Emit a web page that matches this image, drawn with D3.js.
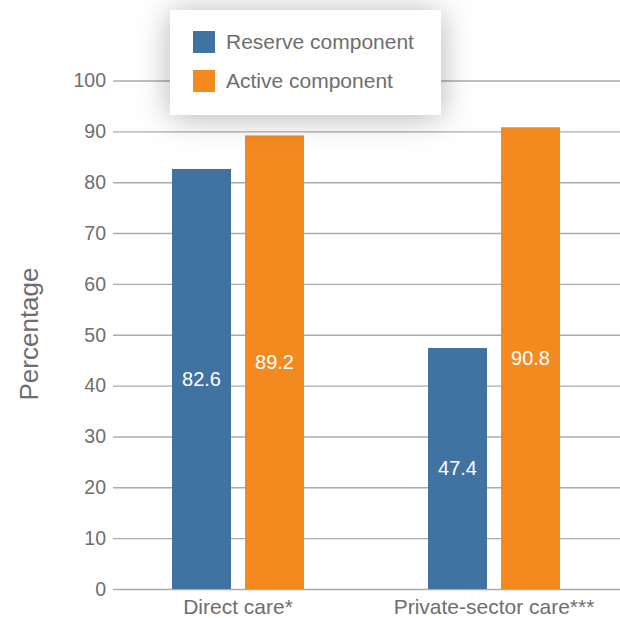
<!DOCTYPE html>
<html>
<head>
<meta charset="utf-8">
<script src="https://cdn.jsdelivr.net/npm/d3@7"></script>
<style>
  html, body { margin: 0; padding: 0; background: #fff; }
  svg { display: block; font-family: "Liberation Sans", Arial, Helvetica, sans-serif; }
</style>
</head>
<body>
<svg id="chart" width="620" height="618"></svg>
<script>
// Care categories and the two service components compared in each
const categories = ["Direct care*", "Private-sector care***"];
const seriesNames = ["Reserve component", "Active component"];
const reserveValues = [82.6, 47.4];
const activeValues = [89.2, 90.8];
const yTicks = [0, 10, 20, 30, 40, 50, 60, 70, 80, 90, 100];
const colors = ["#4173a2", "#f28a20"];

const seriesValues = [reserveValues, activeValues];
const rows = categories.map((c, i) => ({
  category: c,
  values: seriesNames.map((s, j) => ({ series: s, idx: j, value: seriesValues[j][i] }))
}));

const svg = d3.select("#chart");
const textColor = "#6e6e6e";

const x0 = d3.scaleBand().domain(categories).range([110, 622]).paddingInner(0).paddingOuter(0);
const x1 = d3.scaleBand().domain(seriesNames).range([0, x0.bandwidth()])
  .paddingInner(0.192).paddingOuter(0.849);
const y = d3.scaleLinear().domain([0, 100]).range([589, 80.5]);

// Horizontal gridlines with tick labels
const yAxis = d3.axisLeft(y).tickValues(yTicks).tickSize(-507).tickPadding(7);
const gy = svg.append("g").attr("transform", "translate(113,0)").call(yAxis);
gy.select(".domain").remove();
gy.selectAll(".tick line").attr("stroke", "#ababab").attr("stroke-width", 1.4);
gy.selectAll(".tick text")
  .attr("fill", textColor)
  .attr("font-size", 19.5)
  .attr("font-family", "'Liberation Sans', Arial, sans-serif");

// Grouped bars
const groups = svg.append("g").selectAll("g.group")
  .data(rows).join("g")
  .attr("class", "group")
  .attr("transform", d => `translate(${x0(d.category)},0)`);

groups.selectAll("rect")
  .data(d => d.values).join("rect")
  .attr("x", d => x1(d.series))
  .attr("width", x1.bandwidth())
  .attr("y", d => y(d.value))
  .attr("height", d => y(0) - y(d.value))
  .attr("fill", d => colors[d.idx]);

// Value labels centred inside each bar
groups.selectAll("text.value")
  .data(d => d.values).join("text")
  .attr("class", "value")
  .attr("x", d => x1(d.series) + x1.bandwidth() / 2)
  .attr("y", d => (y(d.value) + y(0)) / 2)
  .attr("dy", "0.35em")
  .attr("text-anchor", "middle")
  .attr("fill", "#fff")
  .attr("font-size", 20)
  .text(d => d.value.toFixed(1));

// Category labels under the baseline
const xAxis = d3.axisBottom(x0).tickSize(0).tickPadding(10);
const gx = svg.append("g").attr("transform", "translate(0,589)").call(xAxis);
gx.select(".domain").remove();
gx.selectAll(".tick text")
  .attr("fill", textColor)
  .attr("font-size", 21)
  .attr("font-family", "'Liberation Sans', Arial, sans-serif");

// Y axis title
svg.append("text")
  .attr("transform", "translate(38,334) rotate(-90)")
  .attr("text-anchor", "middle")
  .attr("fill", textColor)
  .attr("font-size", 26)
  .text("Percentage");

// Legend box with soft shadow
const defs = svg.append("defs");
const f = defs.append("filter").attr("id", "legendShadow")
  .attr("x", "-50%").attr("y", "-80%").attr("width", "200%").attr("height", "260%");
f.append("feDropShadow")
  .attr("dx", 0).attr("dy", 2)
  .attr("stdDeviation", 16)
  .attr("flood-color", "#000")
  .attr("flood-opacity", 0.3);

const legend = svg.append("g").attr("transform", "translate(170,10)");
legend.append("rect")
  .attr("width", 271).attr("height", 105)
  .attr("fill", "#fff")
  .attr("filter", "url(#legendShadow)");

const items = legend.selectAll("g.item")
  .data(seriesNames).join("g")
  .attr("class", "item")
  .attr("transform", (d, i) => `translate(23,${21 + i * 39})`);
items.append("rect")
  .attr("width", 22).attr("height", 22)
  .attr("fill", (d, i) => colors[i]);
items.append("text")
  .attr("x", 33).attr("y", 11).attr("dy", "0.35em")
  .attr("fill", textColor)
  .attr("font-size", 21)
  .text(d => d);
</script>
</body>
</html>
